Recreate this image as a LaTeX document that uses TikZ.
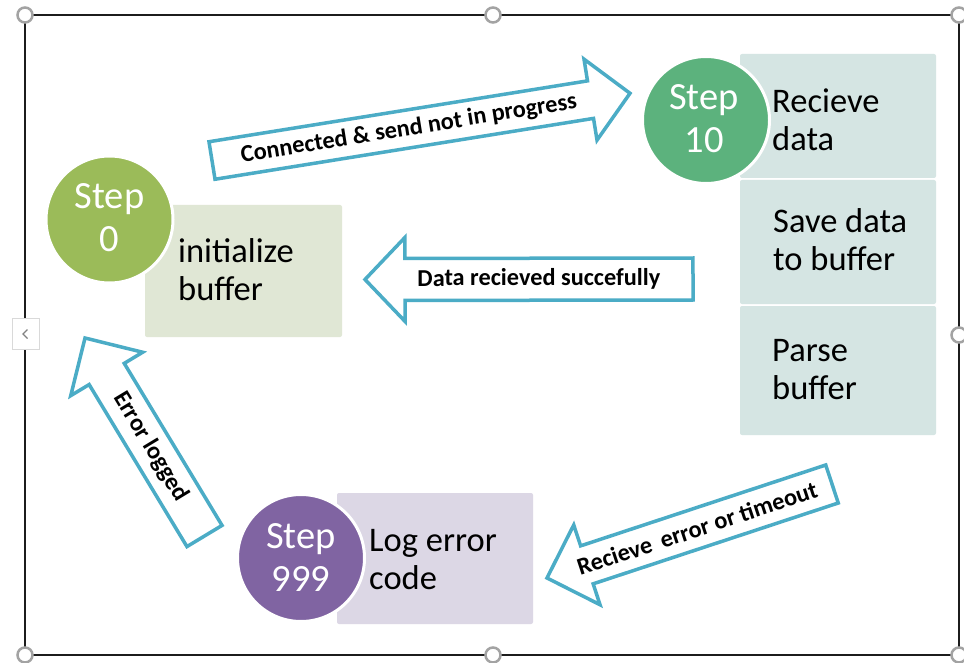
\documentclass[tikz,border=0pt]{standalone}
\usepackage{fontspec}
\setmainfont{Carlito}
\usetikzlibrary{calc}

\definecolor{framecol}{HTML}{1C1C1C}
\definecolor{handlecol}{HTML}{A3A3A3}
\definecolor{tabcol}{HTML}{D9D9D9}
\definecolor{flowblue}{HTML}{4BACC6}
\definecolor{initfill}{HTML}{9BBB59}
\definecolor{initbox}{HTML}{E0E7D5}
\definecolor{recvfill}{HTML}{5CB27D}
\definecolor{recvbox}{HTML}{D5E5E3}
\definecolor{errfill}{HTML}{8064A2}
\definecolor{errbox}{HTML}{DCD7E5}

\tikzset{
  handle/.style={draw=handlecol, fill=white, line width=2.5pt},
  stepcircle/.style={circle, draw=white, line width=3pt, minimum size=127pt, inner sep=0pt},
  stepbox/.style={rectangle, rounded corners=2pt, inner sep=0pt},
  steptext/.style={text=white, align=center, inner sep=0pt, font=\fontsize{38.5}{43}\selectfont},
  boxtext/.style={text=black, align=left, anchor=west, inner sep=0pt, font=\fontsize{34.5}{38}\selectfont},
  flowshape/.style={draw=flowblue, fill=white, line width=3.5pt, line join=miter},
  arrowlabel/.style={font=\fontsize{24.3}{27}\selectfont\bfseries, inner sep=0pt, text=black},
}

% block arrow: name, tail centre, tip, shaft half-width, head half-width, head length, label, label position
\newcommand{\flowarrow}[8]{%
  \coordinate (#1-t) at #2;
  \coordinate (#1-p) at #3;
  \coordinate (#1-b) at ($(#1-p)!#6!(#1-t)$);
  \draw[flowshape]
    ($(#1-t)!#4!90:(#1-p)$) -- ($(#1-b)!#4!90:(#1-p)$) -- ($(#1-b)!#5!90:(#1-p)$)
    -- (#1-p)
    -- ($(#1-b)!#5!-90:(#1-p)$) -- ($(#1-b)!#4!-90:(#1-p)$) -- ($(#1-t)!#4!-90:(#1-p)$) -- cycle;
  \path (#1-t) -- (#1-b) node[arrowlabel, sloped, pos=#8] (#1-label) {#7};
}

\begin{document}
\begin{tikzpicture}[x=1pt,y=-1pt]
\useasboundingbox (0,0) rectangle (964,663);
\fill[white] (0,0) rectangle (964,663);

% selection frame with its handles
\draw[framecol, line width=2pt] (25,15) rectangle (959,655);
\node[draw=tabcol, fill=white, line width=1pt, minimum width=27pt, minimum height=31pt, inner sep=0pt] (tab) at (25.5,334) {};
\draw[handlecol!80!black, line width=1.3pt]
  ($(tab.center)+(2,-4.5)$) -- ($(tab.center)+(-2.5,0)$) -- ($(tab.center)+(2,4.5)$);
\foreach \hx/\hy in {25/15, 493/15, 959/15, 959/335, 959/655, 493/655, 25/655}
  \draw[handle] (\hx,\hy) circle[radius=7.5pt];

% step boxes
\node[stepbox, fill=initbox, minimum width=197pt, minimum height=132pt] (init-box) at (243.5,271) {};
\node[stepbox, fill=recvbox, minimum width=196pt, minimum height=124pt] (recv-box) at (838,116) {};
\node[stepbox, fill=recvbox, minimum width=196pt, minimum height=124pt] (save-box) at (838,242) {};
\node[stepbox, fill=recvbox, minimum width=196pt, minimum height=129pt] (parse-box) at (838,370.5) {};
\node[stepbox, fill=errbox, minimum width=196pt, minimum height=131pt] (log-box) at (435,558.5) {};

% step circles
\node[stepcircle, fill=initfill] (step0) at (109.5,219.5) {};
\node[stepcircle, fill=recvfill] (step10) at (706,120) {};
\node[stepcircle, fill=errfill] (step999) at (301,558) {};

\node[steptext] (step0-text) at ($(step0)+(0,-1.5)$) {Step\\0};
\node[steptext] (step10-text) at ($(step10)+(-2,-1.5)$) {Step\\10};
\node[steptext] (step999-text) at ($(step999)+(0,0)$) {Step\\999};

% box texts
\node[boxtext] (init-text) at (178,269.6) {initialize\\buffer};
\node[boxtext] (recv-text) at (772,119.5) {Recieve\\data};
\node[boxtext] (save-text) at (773,239.5) {Save data\\to buffer};
\node[boxtext] (parse-text) at (772,369.5) {Parse\\buffer};
\node[boxtext] (log-text) at (369,559.5) {Log error\\code};

% transitions
\flowarrow{a-send}{(212,160.5)}{(630,93.3)}{19pt}{41pt}{40pt}{Connected \& send not in progress}{0.52}
\flowarrow{a-done}{(693,279)}{(365,279.5)}{21pt}{42pt}{40pt}{Data recieved succefully}{0.535}
\flowarrow{a-fail}{(832,484)}{(547,578)}{20pt}{42pt}{42pt}{Recieve\hspace{0.4em}error or timeout}{0.55}
\flowarrow{a-log}{(204.5,536)}{(85,338)}{20.5pt}{42pt}{42pt}{Error logged}{0.55}
\end{tikzpicture}
\end{document}
